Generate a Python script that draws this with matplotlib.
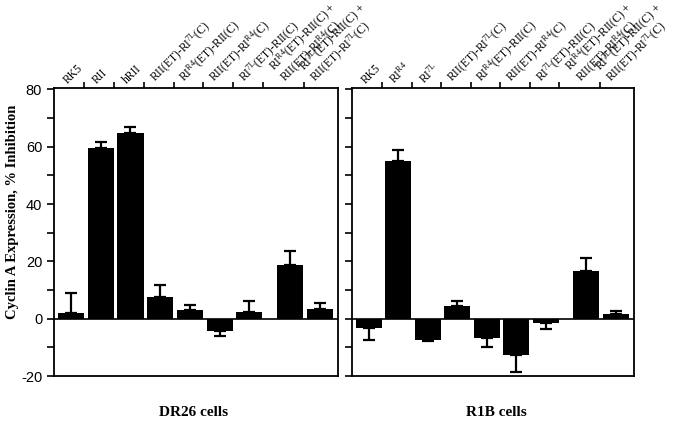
import matplotlib.pyplot as plt
import numpy as np

plt.rcParams['mathtext.default'] = 'regular'
plt.rcParams['axes.unicode_minus'] = False

# bar positions (wider gap before the two combination constructs)
pos = [0, 1, 2, 3, 4, 5, 6, 7.37, 8.38]

labels_dr26 = ['RK5', 'RII', 'hRII',
               'RII(ET)-RI$^{7L}$(C)', 'RI$^{R4}$(ET)-RII(C)', 'RII(ET)-RI$^{R4}$(C)',
               'RI$^{7L}$(ET)-RII(C)',
               'RI$^{R4}$(ET)-RII(C) +\nRII(ET)-RI$^{R4}$(C)',
               'RI$^{7L}$(ET)-RII(C) +\nRII(ET)-RI$^{7L}$(C)']
vals_dr26 = [2.0, 59.5, 64.8, 7.7, 3.2, -4.3, 2.3, 18.6, 3.3]
err_dr26 = [7.0, 2.0, 2.0, 4.2, 1.5, 1.7, 3.7, 5.1, 2.1]

labels_r1b = ['RK5', 'RI$^{R4}$', 'RI$^{7L}$',
              'RII(ET)-RI$^{7L}$(C)', 'RI$^{R4}$(ET)-RII(C)', 'RII(ET)-RI$^{R4}$(C)',
              'RI$^{7L}$(ET)-RII(C)',
              'RI$^{R4}$(ET)-RII(C) +\nRII(ET)-RI$^{R4}$(C)',
              'RI$^{7L}$(ET)-RII(C) +\nRII(ET)-RI$^{7L}$(C)']
vals_r1b = [-3.4, 55.0, -7.6, 4.3, -6.9, -12.8, -1.5, 16.6, 1.8]
err_r1b = [4.0, 3.8, 0.3, 1.9, 3.0, 5.8, 2.1, 4.6, 0.9]

fig = plt.figure(figsize=(6.78, 4.28), dpi=100)
ax1 = fig.add_axes([54/678, 52/428, 284/678, 288/428])
ax2 = fig.add_axes([352/678, 52/428, 282/678, 288/428])


def panel(ax, vals, errs, labels, left_labels):
    ax.bar(pos, vals, width=0.88, color='black', zorder=2)
    # one-sided error bars, pointing away from zero
    lo = [e if v < 0 else 0 for v, e in zip(vals, errs)]
    hi = [e if v >= 0 else 0 for v, e in zip(vals, errs)]
    ax.errorbar(pos, vals, yerr=[lo, hi], fmt='none', ecolor='black',
                elinewidth=1.6, capsize=4.5, capthick=1.6, zorder=3)
    ax.axhline(0, color='black', lw=1.2, zorder=1)
    ax.set_xlim(-0.57, 8.98)
    ax.set_ylim(-20, 80.5)
    for s in ax.spines.values():
        s.set_linewidth(1.3)

    ax.xaxis.tick_top()
    ax.set_xticks([p + 0.45 for p in pos[:-1]])
    ax.set_xticklabels([])
    ax.tick_params(axis='x', direction='out', length=4, width=1.2)

    ax.set_yticks([-20, 0, 20, 40, 60, 80])
    ax.set_yticks(np.arange(-10, 80, 20), minor=True)
    ax.tick_params(axis='y', which='both', direction='out', length=5, width=1.2)
    if left_labels:
        ax.tick_params(axis='y', labelsize=10.5)
        for t in ax.get_yticklabels():
            t.set_family('Liberation Sans')
    else:
        ax.set_yticklabels([])

    for p, lab in zip(pos, labels):
        ax.text(p - 0.05, 81.2, lab, rotation=45, rotation_mode='anchor',
                ha='left', va='bottom', fontsize=8.4, family='Liberation Serif',
                linespacing=0.85)


panel(ax1, vals_dr26, err_dr26, labels_dr26, True)
panel(ax2, vals_r1b, err_r1b, labels_r1b, False)

fig.text(13/678, 1 - 212/428, 'Cyclin A Expression, % Inhibition', rotation=90,
         ha='center', va='center', fontsize=10.5, family='Liberation Serif',
         fontweight='bold')
fig.text(194/678, 1 - 413/428, 'DR26 cells', ha='center', va='center',
         fontsize=11, family='Liberation Serif', fontweight='bold')
fig.text(496/678, 1 - 412/428, 'R1B cells', ha='center', va='center',
         fontsize=11, family='Liberation Serif', fontweight='bold')

fig.savefig('out.png', dpi=100)
